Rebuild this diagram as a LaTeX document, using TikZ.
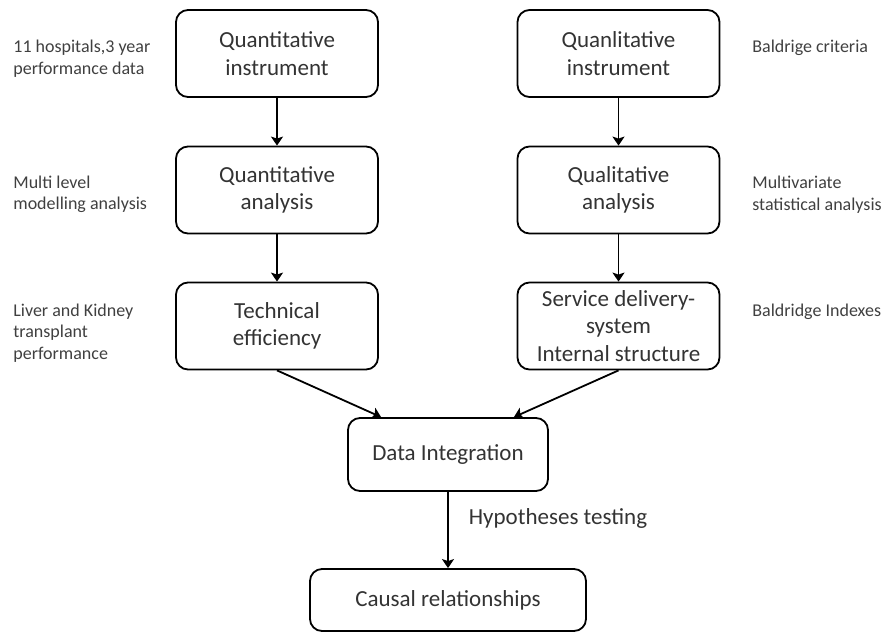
\documentclass[tikz,border=0pt]{standalone}
\usepackage{fontspec}
\setmainfont{Carlito}
\usetikzlibrary{arrows.meta,positioning}
\tikzset{every picture/.style={line width=0.75pt}}
\tikzset{
  box/.style={draw, rounded corners=12pt, line width=1.8pt, align=center, inner sep=0pt,
    minimum width=202pt, minimum height=87pt, text=black!80, font=\fontsize{23}{27.5}\selectfont},
  note/.style={anchor=west, align=left, inner sep=0pt, text=black!75, font=\fontsize{18}{21.5}\selectfont},
  arrow/.style={line width=1.8pt, -{Stealth[length=9pt,width=12pt,inset=2pt]}}
}

\begin{document}
\begin{tikzpicture}[x=1pt,y=-1pt]
    \useasboundingbox (0,0) rectangle (883,632);

    % 左列：定量
    \node[box] (qninst) at (277,53.5) {Quantitative\\instrument};
    \node[box] (qnana) at (277,190) {Quantitative\\analysis};
    \node[box] (techeff) at (277,326) {Technical\\efficiency};

    % 右列：定性
    \node[box] (qlinst) at (618.5,53.5) {Quanlitative\\instrument};
    \node[box] (qlana) at (618.5,190) {Qualitative\\analysis};
    \node[box] (service) at (618.5,326) {Service delivery-\\system\\Internal structure};

    % 汇合
    \node[box, minimum width=200pt, minimum height=73pt] (integ) at (448,454.5) {Data Integration};
    \node[box, minimum width=276pt, minimum height=62pt] (causal) at (448,600) {Causal relationships};

    % 侧边说明
    \node[note] (noteA) at (13,58.5) {11 hospitals,3 year\\performance data};
    \node[note] (noteB) at (13,194.5) {Multi level\\modelling analysis};
    \node[note] (noteC) at (13,333) {Liver and Kidney\\transplant\\performance};
    \node[note] (noteD) at (752,48) {Baldrige criteria};
    \node[note] (noteE) at (752,194.5) {Multivariate\\statistical analysis};
    \node[note] (noteF) at (752,312) {Baldridge Indexes};

    % 箭头
    \draw[arrow] (qninst) -- (qnana);
    \draw[arrow] (qnana) -- (techeff);
    \draw[arrow] (qlinst) -- (qlana);
    \draw[arrow] (qlana) -- (service);
    \draw[arrow] (techeff.south) -- ([xshift=34pt]integ.north west);
    \draw[arrow] (service.south) -- ([xshift=-35pt]integ.north east);
    \draw[arrow] (integ) -- (causal)
        node[pos=0.35, right=20pt, inner sep=0pt, text=black!80, font=\fontsize{23}{27.5}\selectfont] (hyp) {Hypotheses testing};
\end{tikzpicture}
\end{document}
